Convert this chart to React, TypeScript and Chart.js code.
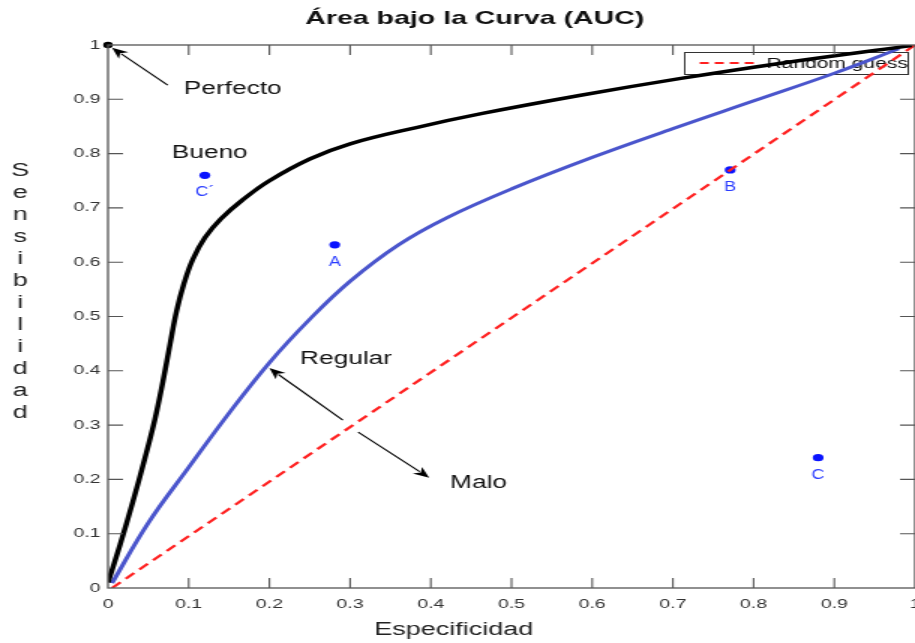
import React, { useEffect, useRef } from "react";
import { Chart, registerables } from "chart.js";

Chart.register(...registerables);

const titleText = "Área bajo la Curva (AUC)";
const xTitle = "Especificidad";
const yTitle = "Sensibilidad";

const goodX = [0, 0.015, 0.031, 0.045, 0.058, 0.068, 0.077, 0.085, 0.094, 0.105, 0.12, 0.14, 0.167, 0.2, 0.25, 0.3, 0.382, 0.464, 0.584, 0.708, 0.832, 0.996];
const goodY = [0.01, 0.08, 0.16, 0.235, 0.31, 0.38, 0.45, 0.51, 0.56, 0.605, 0.645, 0.68, 0.715, 0.75, 0.79, 0.818, 0.848, 0.874, 0.907, 0.938, 0.966, 0.999];

const regularX = [0.005, 0.05, 0.1, 0.15, 0.2, 0.25, 0.3, 0.36, 0.42, 0.5, 0.6, 0.7, 0.8, 0.9, 0.98];
const regularY = [0.009, 0.12, 0.222, 0.322, 0.415, 0.495, 0.565, 0.632, 0.682, 0.735, 0.793, 0.846, 0.897, 0.948, 0.993];

const randomX = [0.005, 1];
const randomY = [0, 1];

const pointNames = ["C´", "A", "B", "C"];
const pointX = [0.12, 0.281, 0.771, 0.88];
const pointY = [0.76, 0.632, 0.77, 0.24];

const perfectX = [0];
const perfectY = [1];

const noteTexts = ["Perfecto", "Bueno", "Regular", "Malo"];
const noteX = [0.094, 0.079, 0.238, 0.424];
const noteY = [0.919, 0.801, 0.422, 0.193];

const arrowTailX = [0.074, 0.291, 0.31];
const arrowTailY = [0.926, 0.309, 0.287];
const arrowTipX = [0.005, 0.2, 0.398];
const arrowTipY = [0.995, 0.405, 0.203];

const tickValues = [0, 0.1, 0.2, 0.3, 0.4, 0.5, 0.6, 0.7, 0.8, 0.9, 1];

const FONT = '"Liberation Sans", Arial, Helvetica, sans-serif';
const STRETCH = 1.5;
const CW = 610;
const CH = 643;

const toXY = (xs: number[], ys: number[]) => xs.map((x, i) => ({ x, y: ys[i] }));

function drawArrow(ctx: CanvasRenderingContext2D, x1: number, y1: number, x2: number, y2: number) {
  const ang = Math.atan2(y2 - y1, x2 - x1);
  const head = 11;
  const hw = 4.5;
  const c = Math.cos(ang);
  const s = Math.sin(ang);
  ctx.save();
  ctx.strokeStyle = "#000";
  ctx.fillStyle = "#000";
  ctx.lineWidth = 1.1;
  ctx.beginPath();
  ctx.moveTo(x1, y1);
  ctx.lineTo(x2 - c * head * 0.8, y2 - s * head * 0.8);
  ctx.stroke();
  ctx.beginPath();
  ctx.moveTo(x2, y2);
  ctx.lineTo(x2 - c * head - s * hw, y2 - s * head + c * hw);
  ctx.lineTo(x2 - c * head * 0.7, y2 - s * head * 0.7);
  ctx.lineTo(x2 - c * head + s * hw, y2 - s * head - c * hw);
  ctx.closePath();
  ctx.fill();
  ctx.restore();
}

const decorPlugin = {
  id: "decor",
  beforeDatasetsDraw(chart: any) {
    const ctx = chart.ctx as CanvasRenderingContext2D;
    const ds = chart.data.datasets[2];
    const area = chart.chartArea;
    const bx = area.right - 154;
    const by = area.top + 7;
    const bw = 149;
    const bh = 22;
    ctx.save();
    ctx.fillStyle = "#fff";
    ctx.fillRect(bx, by, bw, bh);
    ctx.strokeStyle = "#333";
    ctx.lineWidth = 1;
    ctx.strokeRect(bx + 0.5, by + 0.5, bw, bh);
    ctx.strokeStyle = ds.borderColor;
    ctx.lineWidth = 2;
    ctx.setLineDash([6, 4]);
    ctx.beginPath();
    ctx.moveTo(bx + 10.5, by + 11);
    ctx.lineTo(bx + 50.5, by + 11);
    ctx.stroke();
    ctx.setLineDash([]);
    ctx.fillStyle = "#111";
    ctx.font = `14px ${FONT}`;
    ctx.textBaseline = "middle";
    ctx.textAlign = "left";
    ctx.fillText(ds.label, bx + 55, by + 12);
    ctx.restore();
  },
  afterDraw(chart: any) {
    const ctx = chart.ctx as CanvasRenderingContext2D;
    const area = chart.chartArea;
    const xs = chart.scales.x;
    const ys = chart.scales.y;
    ctx.save();
    ctx.strokeStyle = "#555";
    ctx.lineWidth = 1.3;
    ctx.strokeRect(area.left, area.top, area.right - area.left, area.bottom - area.top);
    ctx.lineWidth = 1.1;
    ctx.beginPath();
    tickValues.forEach((v) => {
      if (v === 0 || v === 1) return;
      const px = xs.getPixelForValue(v);
      ctx.moveTo(px, area.bottom);
      ctx.lineTo(px, area.bottom - 10);
      ctx.moveTo(px, area.top);
      ctx.lineTo(px, area.top + 10);
      const py = ys.getPixelForValue(v);
      ctx.moveTo(area.left, py);
      ctx.lineTo(area.left + 10, py);
      ctx.moveTo(area.right, py);
      ctx.lineTo(area.right - 10, py);
    });
    ctx.stroke();

    ctx.fillStyle = "#111";
    ctx.font = `bold 19px ${FONT}`;
    ctx.textAlign = "center";
    ctx.textBaseline = "middle";
    ctx.fillText(titleText, 316.5, 19);

    ctx.fillStyle = "#222";
    ctx.font = `18px ${FONT}`;
    ctx.fillText(xTitle, 302.5, 630);

    Array.from(yTitle).forEach((ch, i) => {
      ctx.fillText(ch, 13.5, 171 + i * 22);
    });

    ctx.fillStyle = "#111";
    ctx.font = `17.5px ${FONT}`;
    ctx.textAlign = "left";
    noteTexts.forEach((t, i) => {
      ctx.fillText(t, xs.getPixelForValue(noteX[i]), ys.getPixelForValue(noteY[i]));
    });
    ctx.restore();

    arrowTailX.forEach((_, i) => {
      drawArrow(
        ctx,
        xs.getPixelForValue(arrowTailX[i]),
        ys.getPixelForValue(arrowTailY[i]),
        xs.getPixelForValue(arrowTipX[i]),
        ys.getPixelForValue(arrowTipY[i])
      );
    });

    ctx.save();
    ctx.fillStyle = "#2a3cff";
    ctx.font = `15px ${FONT}`;
    ctx.textBaseline = "middle";
    pointNames.forEach((n, i) => {
      const px = xs.getPixelForValue(pointX[i]);
      const py = ys.getPixelForValue(pointY[i]) + 17;
      ctx.save();
      ctx.translate(px, py);
      ctx.scale(0.8, 1);
      ctx.textAlign = "center";
      ctx.fillText(n, 0, 0);
      ctx.restore();
    });
    ctx.restore();
  },
};

export default function App() {
  const ref = useRef<HTMLCanvasElement | null>(null);
  useEffect(() => {
    document.body.style.margin = "0";
    const canvas = ref.current;
    if (!canvas) return;
    const fmt = (v: any) => (v === 0 ? "0" : v === 1 ? "1" : Number(v).toFixed(1));
    const chart = new Chart(canvas, {
      type: "scatter",
      data: {
        datasets: [
          {
            label: "Bueno",
            type: "line",
            data: toXY(goodX, goodY),
            borderColor: "#000",
            borderWidth: 3.5,
            pointRadius: 0,
            tension: 0.4,
            fill: false,
          },
          {
            label: "Regular",
            type: "line",
            data: toXY(regularX, regularY),
            borderColor: "#4a55cc",
            borderWidth: 3,
            pointRadius: 0,
            tension: 0.4,
            fill: false,
          },
          {
            label: "Random guess",
            type: "line",
            data: toXY(randomX, randomY),
            borderColor: "#ff2020",
            borderWidth: 2.2,
            borderDash: [8, 5],
            pointRadius: 0,
            fill: false,
          },
          {
            label: "Puntos",
            data: toXY(pointX, pointY),
            backgroundColor: "#0a14ff",
            borderColor: "#0a14ff",
            pointRadius: 3.6,
            borderWidth: 0,
          },
          {
            label: "Perfecto",
            data: toXY(perfectX, perfectY),
            backgroundColor: "#000",
            borderColor: "#000",
            pointRadius: 3.2,
            borderWidth: 0,
            clip: false,
          } as any,
        ],
      },
      options: {
        animation: false,
        responsive: false,
        events: [],
        layout: { padding: { top: 45, right: 0, left: 0, bottom: 0 }, autoPadding: false },
        plugins: { legend: { display: false }, tooltip: { enabled: false }, title: { display: false } },
        scales: {
          x: {
            type: "linear",
            min: 0,
            max: 1,
            grid: { display: false, drawTicks: false },
            border: { display: false },
            afterFit: (s: any) => {
              s.height = 55;
              s.paddingLeft = 0;
              s.paddingRight = 0;
            },
            afterBuildTicks: (s: any) => {
              s.ticks = tickValues.map((v) => ({ value: v }));
            },
            ticks: {
              padding: 9,
              color: "#333",
              font: { family: FONT, size: 13 },
              maxRotation: 0,
              autoSkip: false,
              callback: fmt,
            },
          },
          y: {
            type: "linear",
            min: 0,
            max: 1,
            grid: { display: false, drawTicks: false },
            border: { display: false },
            afterFit: (s: any) => {
              s.width = 72;
              s.paddingTop = 0;
              s.paddingBottom = 0;
            },
            afterBuildTicks: (s: any) => {
              s.ticks = tickValues.map((v) => ({ value: v }));
            },
            ticks: {
              padding: 5,
              color: "#333",
              font: { family: FONT, size: 13 },
              autoSkip: false,
              callback: fmt,
            },
          },
        },
      } as any,
      plugins: [decorPlugin],
    });
    return () => chart.destroy();
  }, []);
  return (
    <div style={{ position: "absolute", left: 0, top: 0, width: 915, height: 643, overflow: "hidden", background: "#fff" }}>
      <canvas
        ref={ref}
        width={CW}
        height={CH}
        style={{ width: CW, height: CH, display: "block", transform: `scaleX(${STRETCH})`, transformOrigin: "0 0" }}
      />
    </div>
  );
}
